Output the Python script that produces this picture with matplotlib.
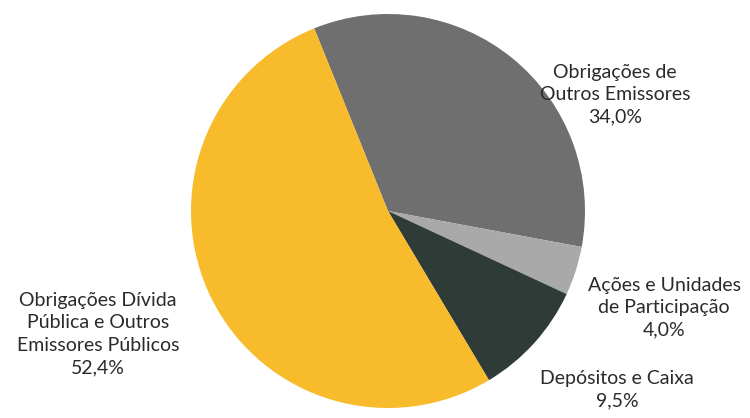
import matplotlib.pyplot as plt

# carteira por tipo de ativo (%)
categorias = ['Obrigações de\nOutros Emissores',
              'Ações e Unidades\nde Participação',
              'Depósitos e Caixa',
              'Obrigações Dívida\nPública e Outros\nEmissores Públicos']
valores = [34.0, 4.0, 9.5, 52.4]
cores = ['#6f6f6f', '#a9a9a9', '#2f3b37', '#f8bb2c']

# posicao dos rotulos (pixels, origem em baixo)
pos_rotulos = [(615, 323), (664, 110), (617, 28), (98, 84)]

fig = plt.figure(figsize=(7.5, 4.18), dpi=100)
ax = fig.add_axes([0, 0, 1, 1])

ax.pie(valores, colors=cores, startangle=112, counterclock=False,
       center=(388, 207), radius=197, frame=True,
       wedgeprops=dict(linewidth=0))

for cat, v, (x, y) in zip(categorias, valores, pos_rotulos):
    txt = cat + '\n' + f'{v:.1f}'.replace('.', ',') + '%'
    ax.text(x, y, txt, ha='center', va='center', fontsize=14,
            family='Lato', color='#2a2a2a', linespacing=1.38)

ax.set_xlim(0, 750)
ax.set_ylim(0, 418)
ax.set_aspect('equal')
ax.axis('off')

fig.savefig('out.png', dpi=100)
